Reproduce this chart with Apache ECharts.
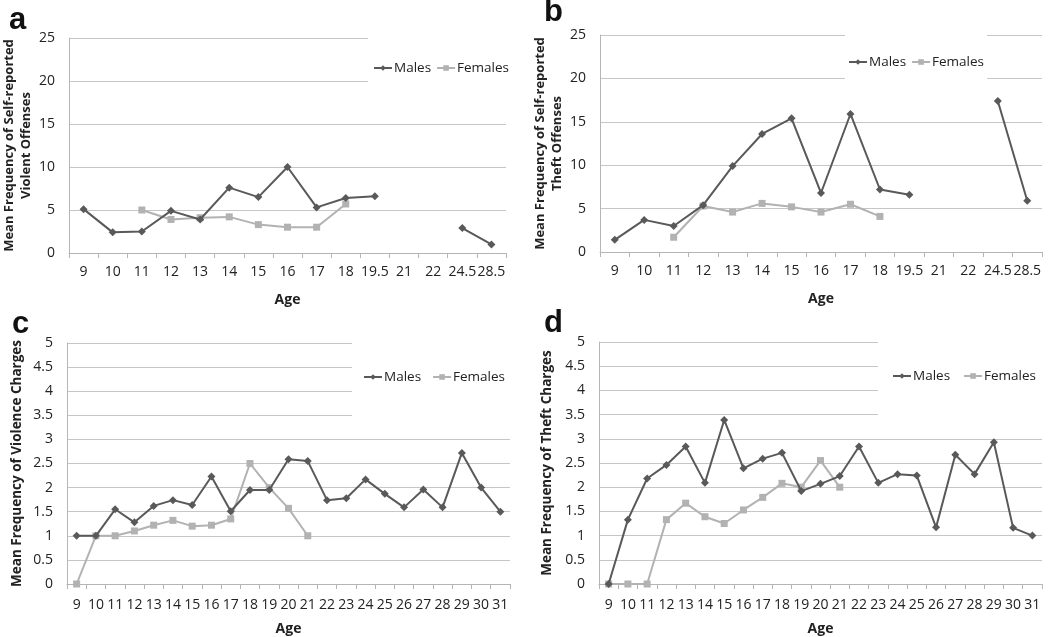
<!DOCTYPE html>
<html>
<head>
<meta charset="utf-8">
<script src="https://cdn.jsdelivr.net/npm/echarts@6/dist/echarts.min.js"></script>
<style>
html,body{margin:0;padding:0;background:#fff;}
#chart{width:1050px;height:637px;}
</style>
</head>
<body>
<div id="chart"></div>
<script>
// ---- Data ----
var agesSelf = ['9','10','11','12','13','14','15','16','17','18','19.5','21','22','24.5','28.5'];
var agesCharges = ['9','10','11','12','13','14','15','16','17','18','19','20','21','22','23','24','25','26','27','28','29','30','31'];

var violentSelfMales   = [5.1, 2.4, 2.5, 4.9, 3.9, 7.6, 6.5, 10.0, 5.3, 6.4, 6.6, null, null, 2.9, 1.0];
var violentSelfFemales = [null, null, 5.0, 3.9, 4.1, 4.2, 3.3, 3.0, 3.0, 5.7, null, null, null, null, null];

var theftSelfMales   = [1.4, 3.7, 3.0, 5.4, 9.9, 13.6, 15.4, 6.8, 15.9, 7.2, 6.6, null, null, 17.4, 5.9];
var theftSelfFemales = [null, null, 1.7, 5.3, 4.6, 5.6, 5.2, 4.6, 5.5, 4.1, null, null, null, null, null];

var violenceChargesMales   = [1.0, 1.0, 1.55, 1.28, 1.62, 1.74, 1.64, 2.23, 1.51, 1.95, 1.95, 2.59, 2.55, 1.74, 1.78, 2.17, 1.87, 1.59, 1.96, 1.59, 2.72, 2.0, 1.5];
var violenceChargesFemales = [0, 1.0, 1.0, 1.1, 1.22, 1.32, 1.2, 1.22, 1.35, 2.5, 2.0, 1.57, 1.0, null, null, null, null, null, null, null, null, null, null];

var theftChargesMales   = [0, 1.33, 2.18, 2.46, 2.84, 2.09, 3.39, 2.39, 2.59, 2.71, 1.92, 2.07, 2.23, 2.84, 2.09, 2.27, 2.24, 1.17, 2.67, 2.27, 2.93, 1.16, 1.0];
var theftChargesFemales = [0, 0, 0, 1.33, 1.67, 1.39, 1.25, 1.53, 1.79, 2.08, 2.0, 2.55, 2.0, null, null, null, null, null, null, null, null, null, null];

var panelLetters = ['a', 'b', 'c', 'd'];
var yNames = [
  'Mean Frequency of Self-reported\nViolent Offenses',
  'Mean Frequency of Self-reported\nTheft Offenses',
  'Mean Frequency of Violence Charges',
  'Mean Frequency of Theft Charges'
];

// ---- Styles ----
var FONT = "'Open Sans', 'Noto Sans', sans-serif";
var MALE = '#595959';
var FEMALE = '#b2b2b2';
var GRIDC = '#c6c6c6';
var AXISC = '#b5b5b5';
var TXT = '#222';

var grids = [
  {left: 65, top: 38, width: 441, height: 215},
  {left: 600, top: 35, width: 442, height: 217},
  {left: 67, top: 343, width: 443, height: 243},
  {left: 599, top: 342, width: 443, height: 242}
];
var cats = [agesSelf, agesSelf, agesCharges, agesCharges];
var yMax = [25, 25, 5, 5];
var yInt = [5, 5, 0.5, 0.5];
var yGap = [34, 32, 41, 43];
var yNameSize = [13, 13, 13.5, 13.5];
var xLabelMargin = [12, 12, 14, 14];
var xNameGap = [40, 40, 38, 38];
var males = [violentSelfMales, theftSelfMales, violenceChargesMales, theftChargesMales];
var females = [violentSelfFemales, theftSelfFemales, violenceChargesFemales, theftChargesFemales];

var legendCfg = [
  {left: 368, top: 30, padding: [31, 8, 25, 5], itemGap: 5},
  {left: 845, top: 27, padding: [28, 3, 31, 3], itemGap: 5},
  {left: 352, top: 336, padding: [34, 10, 41, 11], itemGap: 11},
  {left: 878, top: 335, padding: [34, 12, 41, 14], itemGap: 13}
];
var letterPos = [
  {left: 4, top: 0},
  {left: 539, top: -8},
  {left: 7, top: 304},
  {left: 539, top: 303}
];

var option = {
  animation: false,
  backgroundColor: '#fff',
  textStyle: {fontFamily: FONT},
  title: [],
  legend: [],
  grid: grids,
  xAxis: [],
  yAxis: [],
  series: []
};

for (var i = 0; i < 4; i++) {
  option.title.push({
    text: panelLetters[i], left: letterPos[i].left, top: letterPos[i].top,
    textStyle: {fontFamily: "'Liberation Sans', Arial, sans-serif", fontSize: 31, fontWeight: 'bold', color: '#111'}
  });
  option.legend.push({
    left: legendCfg[i].left, top: legendCfg[i].top, padding: legendCfg[i].padding,
    itemGap: legendCfg[i].itemGap, itemWidth: 18, itemHeight: 7,
    backgroundColor: '#fff', orient: 'horizontal',
    data: ['Males', 'Females'],
    textStyle: {fontFamily: FONT, fontSize: 13.5, color: TXT, padding: [0, 0, 0, -3]},
    seriesIndex: [i * 2, i * 2 + 1]
  });
  option.xAxis.push({
    type: 'category', gridIndex: i, data: cats[i], boundaryGap: true,
    name: 'Age', nameLocation: 'middle', nameGap: xNameGap[i],
    nameTextStyle: {fontFamily: FONT, fontSize: 14, fontWeight: 'bold', color: TXT},
    axisLine: {show: true, lineStyle: {color: AXISC, width: 1}},
    axisTick: {show: true, alignWithLabel: false, length: 5, lineStyle: {color: AXISC}},
    axisLabel: {interval: 0, margin: xLabelMargin[i], fontFamily: FONT, fontSize: 14, color: TXT},
    splitLine: {show: false}
  });
  option.yAxis.push({
    type: 'value', gridIndex: i, min: 0, max: yMax[i], interval: yInt[i],
    name: yNames[i], nameLocation: 'middle', nameGap: yGap[i], nameRotate: 90,
    nameTextStyle: {fontFamily: FONT, fontSize: yNameSize[i], fontWeight: 'bold', color: TXT, lineHeight: 17},
    axisLine: {show: true, lineStyle: {color: AXISC, width: 1}},
    axisTick: {show: false},
    axisLabel: {margin: 14, fontFamily: FONT, fontSize: 14, color: TXT},
    splitLine: {show: true, lineStyle: {color: GRIDC, width: 1}}
  });
  option.series.push({
    name: 'Males', type: 'line', xAxisIndex: i, yAxisIndex: i, data: males[i],
    connectNulls: false, symbol: 'diamond', symbolSize: 8,
    lineStyle: {color: MALE, width: 2}, itemStyle: {color: MALE},
    z: 3
  });
  option.series.push({
    name: 'Females', type: 'line', xAxisIndex: i, yAxisIndex: i, data: females[i],
    connectNulls: false, symbol: 'rect', symbolSize: 7,
    lineStyle: {color: FEMALE, width: 2}, itemStyle: {color: FEMALE},
    z: 2
  });
}

var chart = echarts.init(document.getElementById('chart'), null, {renderer: 'canvas'});
chart.setOption(option);
</script>
</body>
</html>
